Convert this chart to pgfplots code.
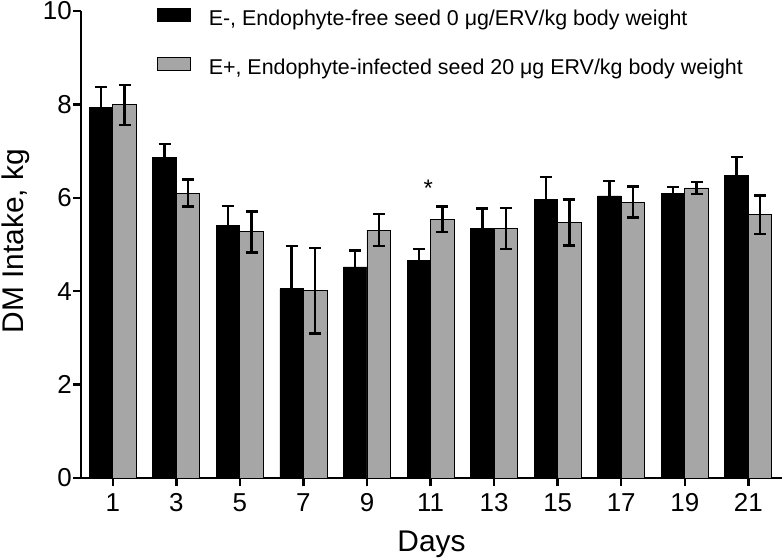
\documentclass[border=0pt]{standalone}
\usepackage{pgfplots}
\usepackage{pgfplotstable}
\pgfplotsset{compat=1.18}
\usepackage{fontspec}
\setmainfont{Liberation Sans}
\definecolor{barGray}{RGB}{166,166,166}

\pgfplotstableread{
day eneg enegerr epos eposerr
1  7.94 0.43 7.99 0.43
3  6.87 0.28 6.10 0.29
5  5.40 0.42 5.27 0.44
7  4.05 0.92 4.01 0.92
9  4.52 0.35 5.31 0.34
11 4.65 0.25 5.54 0.27
13 5.34 0.43 5.34 0.44
15 5.97 0.48 5.47 0.49
17 6.04 0.32 5.91 0.33
19 6.10 0.13 6.21 0.13
21 6.47 0.40 5.64 0.41
}\datatable

\begin{document}
\begin{tikzpicture}
\path[use as bounding box] (-81bp,-82bp) rectangle (703bp,478bp);
\begin{axis}[
  scale only axis, width=701bp, height=467bp,
  xmin=0, xmax=22.06, ymin=0, ymax=10,
  enlargelimits=false,
  axis lines=left,
  axis line style={-, line width=2.5bp, black},
  x axis line style={-}, y axis line style={-},
  tick align=outside,
  major tick length=8bp,
  tick style={line width=2.5bp, black},
  xtick={1,3,...,21}, ytick={0,2,...,10},
  /pgf/number format/assume math mode=true,
  ticklabel style={font=\fontsize{26}{30}\selectfont},
  xticklabel style={inner sep=0pt, anchor=north, yshift=-7bp},
  yticklabel style={inner sep=0pt, anchor=east, xshift=-1bp},
  xlabel={Days}, ylabel={DM Intake, kg},
  label style={font=\fontsize{30}{34}\selectfont},
  xlabel style={at={(axis description cs:0.5,-0.1574)}, anchor=base},
  ylabel style={at={(axis description cs:-0.0820,0.5075)}, anchor=base, rotate=0},
  ybar=0pt, bar width=0.74,
  legend cell align=left,
  legend image code/.code={\draw[#1] (0bp,-1bp) rectangle (33bp,12bp);},
  legend style={at={(axis description cs:0.1084,1.0073)}, anchor=north west,
    draw=none, fill=none, inner sep=0pt, outer sep=0pt,
    row sep=27.5bp, column sep=18bp,
    font=\fontsize{21.5}{25}\selectfont,
    nodes={inner sep=0pt, text height=15bp, text depth=4.5bp}},
]
\addplot[ybar, fill=black, draw=black, line width=0.8bp, bar shift=-0.37,
  error bars/.cd, y dir=both, y explicit,
  error bar style={line width=2.5bp, black},
  error mark options={rotate=90, mark size=6bp, line width=2.5bp, black}]
  table[x=day, y=eneg, y error=enegerr] {\datatable};
\addlegendentry{E-, Endophyte-free seed 0 μg/ERV/kg body weight}
\addplot[ybar, fill=barGray, draw=black, line width=0.8bp, bar shift=0.37,
  error bars/.cd, y dir=both, y explicit,
  error bar style={line width=2.5bp, black},
  error mark options={rotate=90, mark size=6bp, line width=2.5bp, black}]
  table[x=day, y=epos, y error=eposerr] {\datatable};
\addlegendentry{E+, Endophyte-infected seed 20 μg ERV/kg body weight}
\node[font=\fontsize{24}{28}\selectfont, anchor=base, inner sep=0pt] at (axis cs:10.93,6.03) {*};
\end{axis}
\end{tikzpicture}
\end{document}
